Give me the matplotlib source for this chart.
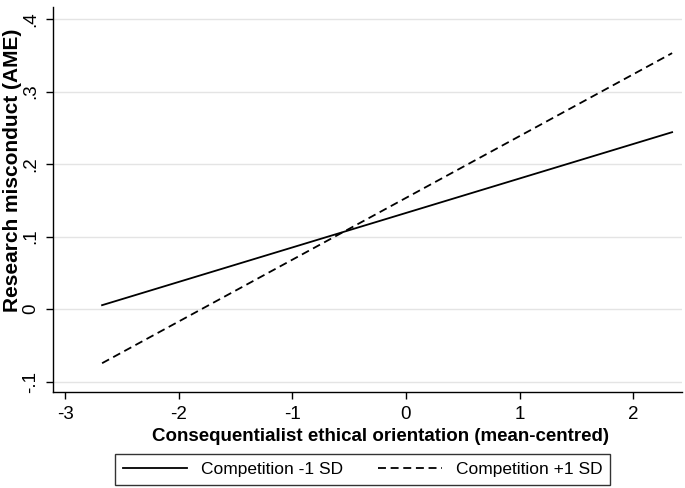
from matplotlib import pyplot as plt
import numpy as np

#Endpoints of the average marginal effects
orientation = np.array([-2.674, 2.343])
compLow = np.array([0.0055, 0.244])
compHigh = np.array([-0.0745, 0.353])

xTicks = [-3, -2, -1, 0, 1, 2]
yTicks = [-0.1, 0, 0.1, 0.2, 0.3, 0.4]
yTickLabels = ['-.1', '0', '.1', '.2', '.3', '.4']

plt.rcParams['font.family'] = ['Liberation Sans', 'DejaVu Sans']

#Initialises figure and axis
fig = plt.figure(figsize = [6.85, 4.88], dpi = 100)
ax = fig.add_axes([53/685, 1 - 392/488, 629/685, 385/488])

#Plots lines
ax.plot(orientation, compLow, color = 'k', lw = 1.3, label = 'Competition -1 SD')
ax.plot(orientation, compHigh, color = 'k', lw = 1.3, dashes = (4.4, 2.6), label = 'Competition +1 SD')

ax.set_xlim(-3.106, 2.43)
ax.set_ylim(-0.1142, 0.4166)
ax.set_xticks(xTicks)
ax.set_xticklabels([str(t) for t in xTicks])
ax.set_yticks(yTicks)
ax.set_yticklabels(yTickLabels, rotation = 90, va = 'center')
ax.tick_params(direction = 'out', length = 5, width = 1, labelsize = 13.5, pad = 5)

ax.grid(axis = 'y', color = '#e4e4e4', lw = 1)
ax.set_axisbelow(True)
for side in ['top', 'right']:
    ax.spines[side].set_visible(False)
for side in ['left', 'bottom']:
    ax.spines[side].set_linewidth(1)

ax.set_xlabel('Consequentialist ethical orientation (mean-centred)', fontsize = 13.5, fontweight = 'bold')
ax.set_ylabel('Research misconduct (AME)', fontsize = 15, fontweight = 'bold')
ax.xaxis.set_label_coords(0.521, -0.093)
ax.yaxis.set_label_coords(-0.05, 0.577)

fig.legend(loc = 'center', bbox_to_anchor = (362.5/685, 1 - 469.5/488), ncol = 2,
           frameon = True, fancybox = False, edgecolor = 'k', fontsize = 12.5,
           handlelength = 3.7, handletextpad = 0.8, columnspacing = 2.0, borderpad = 0.45)

fig.savefig('out.png', dpi = 100)
